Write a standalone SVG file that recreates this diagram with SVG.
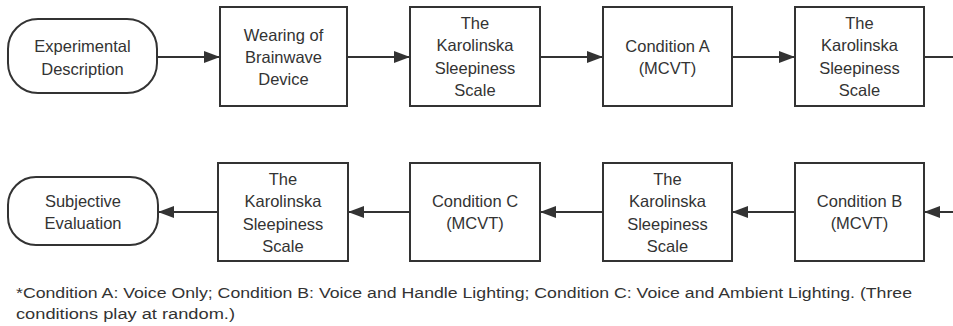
<svg xmlns="http://www.w3.org/2000/svg" width="953" height="326" viewBox="0 0 953 326">
  <style>
    .node { fill: #ffffff; stroke: #333333; stroke-width: 2; }
    .label { font-family: "Liberation Sans", "Noto Sans", sans-serif; font-size: 16.5px; fill: #333333; text-anchor: middle; }
    .edge { stroke: #333333; stroke-width: 2; fill: none; }
    .note { font-family: "Liberation Sans", "Noto Sans", sans-serif; font-size: 15.5px; fill: #333333; }
  </style>
  <defs>
    <marker id="arrow" viewBox="0 0 16 12" refX="16" refY="6" markerWidth="16" markerHeight="12" markerUnits="userSpaceOnUse" orient="auto">
      <path d="M0,0 L16,6 L0,12 Z" fill="#333333"/>
    </marker>
  </defs>
  <rect width="953" height="326" fill="#ffffff"/>

  <!-- connectors -->
  <g id="connectors">
    <line class="edge" x1="157" y1="57" x2="220" y2="57" marker-end="url(#arrow)"/>
    <line class="edge" x1="347" y1="57" x2="410" y2="57" marker-end="url(#arrow)"/>
    <line class="edge" x1="540" y1="57" x2="603" y2="57" marker-end="url(#arrow)"/>
    <line class="edge" x1="732" y1="57" x2="795" y2="57" marker-end="url(#arrow)"/>
    <line class="edge" x1="924" y1="57" x2="953" y2="57"/>
    <line class="edge" x1="953" y1="212" x2="924" y2="212" marker-end="url(#arrow)"/>
    <line class="edge" x1="795" y1="212" x2="732" y2="212" marker-end="url(#arrow)"/>
    <line class="edge" x1="603" y1="212" x2="540" y2="212" marker-end="url(#arrow)"/>
    <line class="edge" x1="410" y1="212" x2="348" y2="212" marker-end="url(#arrow)"/>
    <line class="edge" x1="218" y1="212" x2="158" y2="212" marker-end="url(#arrow)"/>
  </g>

  <!-- top row -->
  <g id="experimental-description">
    <rect class="node" x="8" y="19" width="149" height="74" rx="30" ry="30"/>
    <text class="label" x="82.5" y="52">Experimental</text>
    <text class="label" x="82.5" y="75">Description</text>
  </g>
  <g id="brainwave-device">
    <rect class="node" x="220" y="7" width="127" height="99"/>
    <text class="label" x="283.5" y="41">Wearing of</text>
    <text class="label" x="283.5" y="63">Brainwave</text>
    <text class="label" x="283.5" y="85">Device</text>
  </g>
  <g id="kss-1">
    <rect class="node" x="410" y="7" width="130" height="99"/>
    <text class="label" x="475" y="29">The</text>
    <text class="label" x="475" y="51">Karolinska</text>
    <text class="label" x="475" y="74">Sleepiness</text>
    <text class="label" x="475" y="96">Scale</text>
  </g>
  <g id="condition-a">
    <rect class="node" x="603" y="7" width="129" height="99"/>
    <text class="label" x="667.5" y="52">Condition A</text>
    <text class="label" x="667.5" y="74">(MCVT)</text>
  </g>
  <g id="kss-2">
    <rect class="node" x="795" y="7" width="129" height="99"/>
    <text class="label" x="859.5" y="29">The</text>
    <text class="label" x="859.5" y="51">Karolinska</text>
    <text class="label" x="859.5" y="74">Sleepiness</text>
    <text class="label" x="859.5" y="96">Scale</text>
  </g>

  <!-- bottom row -->
  <g id="condition-b">
    <rect class="node" x="795" y="163" width="129" height="98"/>
    <text class="label" x="859.5" y="207">Condition B</text>
    <text class="label" x="859.5" y="229">(MCVT)</text>
  </g>
  <g id="kss-3">
    <rect class="node" x="603" y="163" width="129" height="98"/>
    <text class="label" x="667.5" y="185">The</text>
    <text class="label" x="667.5" y="207">Karolinska</text>
    <text class="label" x="667.5" y="230">Sleepiness</text>
    <text class="label" x="667.5" y="252">Scale</text>
  </g>
  <g id="condition-c">
    <rect class="node" x="410" y="163" width="130" height="98"/>
    <text class="label" x="475" y="207">Condition C</text>
    <text class="label" x="475" y="229">(MCVT)</text>
  </g>
  <g id="kss-4">
    <rect class="node" x="218" y="163" width="130" height="98"/>
    <text class="label" x="283" y="185">The</text>
    <text class="label" x="283" y="207">Karolinska</text>
    <text class="label" x="283" y="230">Sleepiness</text>
    <text class="label" x="283" y="252">Scale</text>
  </g>
  <g id="subjective-evaluation">
    <rect class="node" x="8" y="177" width="150" height="68" rx="28" ry="28"/>
    <text class="label" x="83" y="207">Subjective</text>
    <text class="label" x="83" y="229">Evaluation</text>
  </g>

  <!-- footnote -->
  <text class="note" x="16" y="298" textLength="896" lengthAdjust="spacingAndGlyphs">*Condition A: Voice Only; Condition B: Voice and Handle Lighting; Condition C: Voice and Ambient Lighting. (Three</text>
  <text class="note" x="16" y="319" textLength="219" lengthAdjust="spacingAndGlyphs">conditions play at random.)</text>
</svg>
